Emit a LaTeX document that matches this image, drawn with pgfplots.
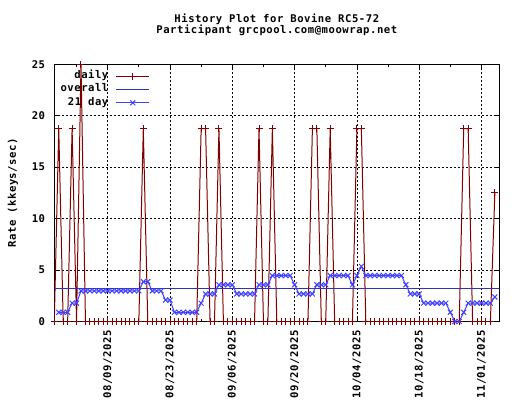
\documentclass[border=0pt]{standalone}
\usepackage{fontspec}
\setmainfont{DejaVu Sans Mono}[UprightFont={* Bold}, LetterSpace=5]
\usepackage{pgfplots}
\pgfplotsset{compat=1.18}
\usepackage{pgfplotstable}
\definecolor{dailyc}{RGB}{128,0,0}
\definecolor{overallc}{RGB}{48,48,192}
\definecolor{avgc}{RGB}{64,64,255}
\newcommand{\gfont}{\fontsize{10.6pt}{11pt}\selectfont}

\pgfplotstableread{
day val
0 0
1 18.75
2 0
3 0
4 18.75
5 0
6 25
7 0
8 0
9 0
10 0
11 0
12 0
13 0
14 0
15 0
16 0
17 0
18 0
19 0
20 18.75
21 0
22 0
23 0
24 0
25 0
26 0
27 0
28 0
29 0
30 0
31 0
32 0
33 18.75
34 18.75
35 0
36 0
37 18.75
38 0
39 0
40 0
41 0
42 0
43 0
44 0
45 0
46 18.75
47 0
48 0
49 18.75
50 0
51 0
52 0
53 0
54 0
55 0
56 0
57 0
58 18.75
59 18.75
60 0
61 0
62 18.75
63 0
64 0
65 0
66 0
67 0
68 18.75
69 18.75
70 0
71 0
72 0
73 0
74 0
75 0
76 0
77 0
78 0
79 0
80 0
81 0
82 0
83 0
84 0
85 0
86 0
87 0
88 0
89 0
90 0
91 0
92 18.75
93 18.75
94 0
95 0
96 0
97 0
98 0
99 12.5
}\dailytab

\pgfplotstableread{
day val
1 0.893
2 0.893
3 0.893
4 1.786
5 1.786
6 2.976
7 2.976
8 2.976
9 2.976
10 2.976
11 2.976
12 2.976
13 2.976
14 2.976
15 2.976
16 2.976
17 2.976
18 2.976
19 2.976
20 3.869
21 3.869
22 2.976
23 2.976
24 2.976
25 2.083
26 2.083
27 0.893
28 0.893
29 0.893
30 0.893
31 0.893
32 0.893
33 1.786
34 2.679
35 2.679
36 2.679
37 3.571
38 3.571
39 3.571
40 3.571
41 2.679
42 2.679
43 2.679
44 2.679
45 2.679
46 3.571
47 3.571
48 3.571
49 4.464
50 4.464
51 4.464
52 4.464
53 4.464
54 3.571
55 2.679
56 2.679
57 2.679
58 2.679
59 3.571
60 3.571
61 3.571
62 4.464
63 4.464
64 4.464
65 4.464
66 4.464
67 3.571
68 4.464
69 5.357
70 4.464
71 4.464
72 4.464
73 4.464
74 4.464
75 4.464
76 4.464
77 4.464
78 4.464
79 3.571
80 2.679
81 2.679
82 2.679
83 1.786
84 1.786
85 1.786
86 1.786
87 1.786
88 1.786
89 0.893
90 0
91 0
92 0.893
93 1.786
94 1.786
95 1.786
96 1.786
97 1.786
98 1.786
99 2.381
}\avgtab

\begin{document}
\begin{tikzpicture}[font=\gfont]
\useasboundingbox (0pt,0pt) rectangle (520pt,400pt);
\node[anchor=base, inner sep=0pt] at (276.8pt,377pt) {History Plot for Bovine RC5-72};
\node[anchor=base, inner sep=0pt] at (276.8pt,366pt) {Participant grcpool.com@moowrap.net};
\begin{axis}[
  at={(54.3pt,78.5pt)}, anchor=south west,
  scale only axis, width=445pt, height=257.2pt,
  xmin=0, xmax=100, ymin=0, ymax=25,
  xtick={12,26,40,54,68,82,96},
  xticklabels={08/09/2025,08/23/2025,09/06/2025,09/20/2025,10/04/2025,10/18/2025,11/01/2025},
  minor xtick={5,19,33,47,61,75,89},
  ytick={0,5,10,15,20,25},
  /pgf/number format/assume math mode=true,
  tick align=inside,
  major tick length=5pt, minor tick length=3pt,
  tick style={black, line width=0.8pt},
  axis line style={black, line width=1pt},
  grid=major,
  major grid style={black, line width=0.8pt, dash pattern=on 2pt off 2pt},
  tick label style={font=\gfont},
  xticklabel style={rotate=90, anchor=east, inner sep=0pt},
  xticklabel shift=8.5pt,
  yticklabel style={anchor=east, inner sep=0pt},
  yticklabel shift=9pt,
  ylabel={Rate (kkeys/sec)},
  label style={font=\gfont},
  ylabel style={at={(axis description cs:-0.0928,0.5)}, anchor=center},
  legend style={draw=none, fill=none, font=\gfont,
    at={(axis description cs:0.215,0.974)}, anchor=north east,
    inner sep=0pt, row sep=3.3pt, column sep=7.4pt,
    nodes={inner sep=0pt, text height=7.5pt, text depth=2.5pt}},
  legend cell align=right,
  legend plot pos=right,
  legend image code/.code={\draw[mark repeat=2,mark phase=2,#1] plot coordinates {(0pt,0pt) (16.5pt,0pt) (33pt,0pt)};},
]
\addplot[dailyc, line width=1pt, mark=+, mark size=3.5pt, mark options={solid, line width=1pt}] table[x=day, y=val] {\dailytab};
\addlegendentry{daily}
\addplot[overallc, line width=1pt, no marks] coordinates {(0,3.2) (100,3.2)};
\addlegendentry{overall}
\addplot[avgc, line width=1pt, mark=x, mark size=3.5pt, mark options={solid, line width=1pt}] table[x=day, y=val] {\avgtab};
\addlegendentry{21 day}
\end{axis}
\end{tikzpicture}
\end{document}
